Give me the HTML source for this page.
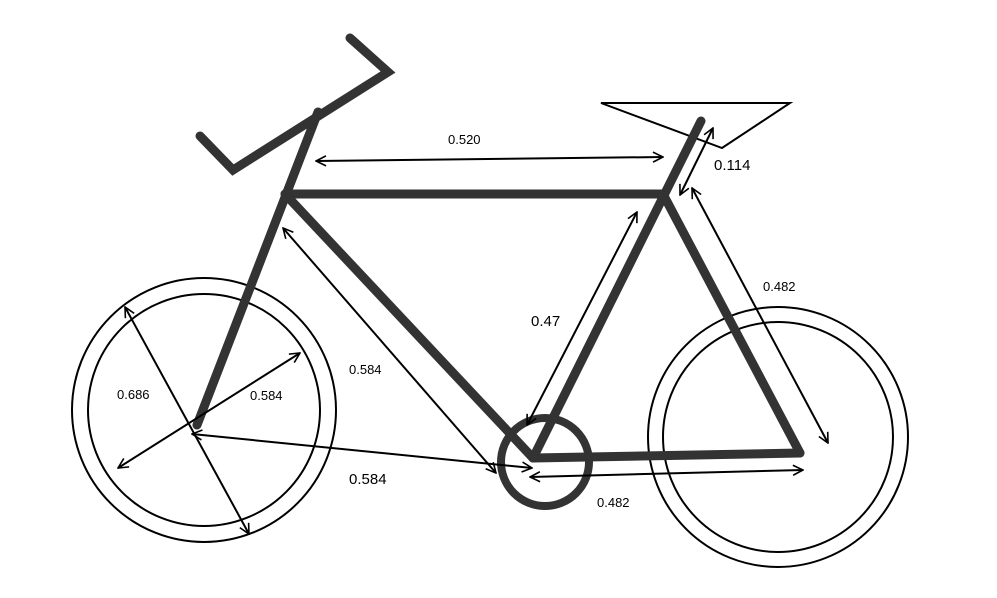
<!DOCTYPE html>
<html><head><meta charset="utf-8"><style>
html,body{margin:0;padding:0;background:#fff;}
svg{display:block;}
text{font-family:"Liberation Sans",sans-serif;fill:#000;}
</style></head><body>
<svg width="997" height="598" viewBox="0 0 997 598">
<defs>
<marker id="ah" viewBox="0 0 12 12" refX="11" refY="6" markerWidth="12" markerHeight="12" markerUnits="userSpaceOnUse" orient="auto-start-reverse">
<path d="M1,1 L11,6 L1,11" fill="none" stroke="#000" stroke-width="1.6"/>
</marker>
</defs>
<g fill="none" stroke="#000" stroke-width="2">
<circle cx="204" cy="410" r="132"/>
<circle cx="204" cy="410" r="116"/>
</g>
<g fill="none" stroke="#000" stroke-width="2">
<circle cx="778" cy="437" r="130"/>
<circle cx="778" cy="437" r="115"/>
</g>
<polygon points="601,103 790,103 722,148" fill="none" stroke="#000" stroke-width="2"/>
<g stroke="#333" stroke-width="9" stroke-linecap="round" fill="none">
<line x1="197" y1="425" x2="318" y2="112"/>
<line x1="285" y1="194" x2="663" y2="194"/>
<line x1="285" y1="194" x2="533" y2="458"/>
<line x1="533" y1="458" x2="701" y2="121"/>
<line x1="663" y1="194" x2="800" y2="453"/>
<line x1="533" y1="458" x2="800" y2="453"/>
<polyline points="200,136 233,170 388,72 350,38"/>
<circle cx="545" cy="462" r="44" stroke-width="8"/>
</g>
<g stroke="#000" stroke-width="2" marker-start="url(#ah)" marker-end="url(#ah)">
<line x1="316" y1="161" x2="663" y2="157"/>
<line x1="713" y1="128" x2="680" y2="195"/>
<line x1="692" y1="188" x2="828" y2="443"/>
<line x1="637" y1="212" x2="527" y2="425"/>
<line x1="283" y1="228" x2="496" y2="473"/>
<line x1="192" y1="434" x2="532" y2="468"/>
<line x1="530" y1="477" x2="803" y2="470"/>
<line x1="125" y1="307" x2="249" y2="534"/>
<line x1="300" y1="353" x2="118" y2="468"/>
</g>
<g>
<text x="448" y="144" font-size="13">0.520</text>
<text x="714" y="170" font-size="15">0.114</text>
<text x="763" y="291" font-size="13">0.482</text>
<text x="531" y="326" font-size="15">0.47</text>
<text x="349" y="374" font-size="13">0.584</text>
<text x="117" y="399" font-size="13">0.686</text>
<text x="250" y="400" font-size="13">0.584</text>
<text x="349" y="484" font-size="15">0.584</text>
<text x="597" y="507" font-size="13">0.482</text>
</g>
</svg>
</body></html>
